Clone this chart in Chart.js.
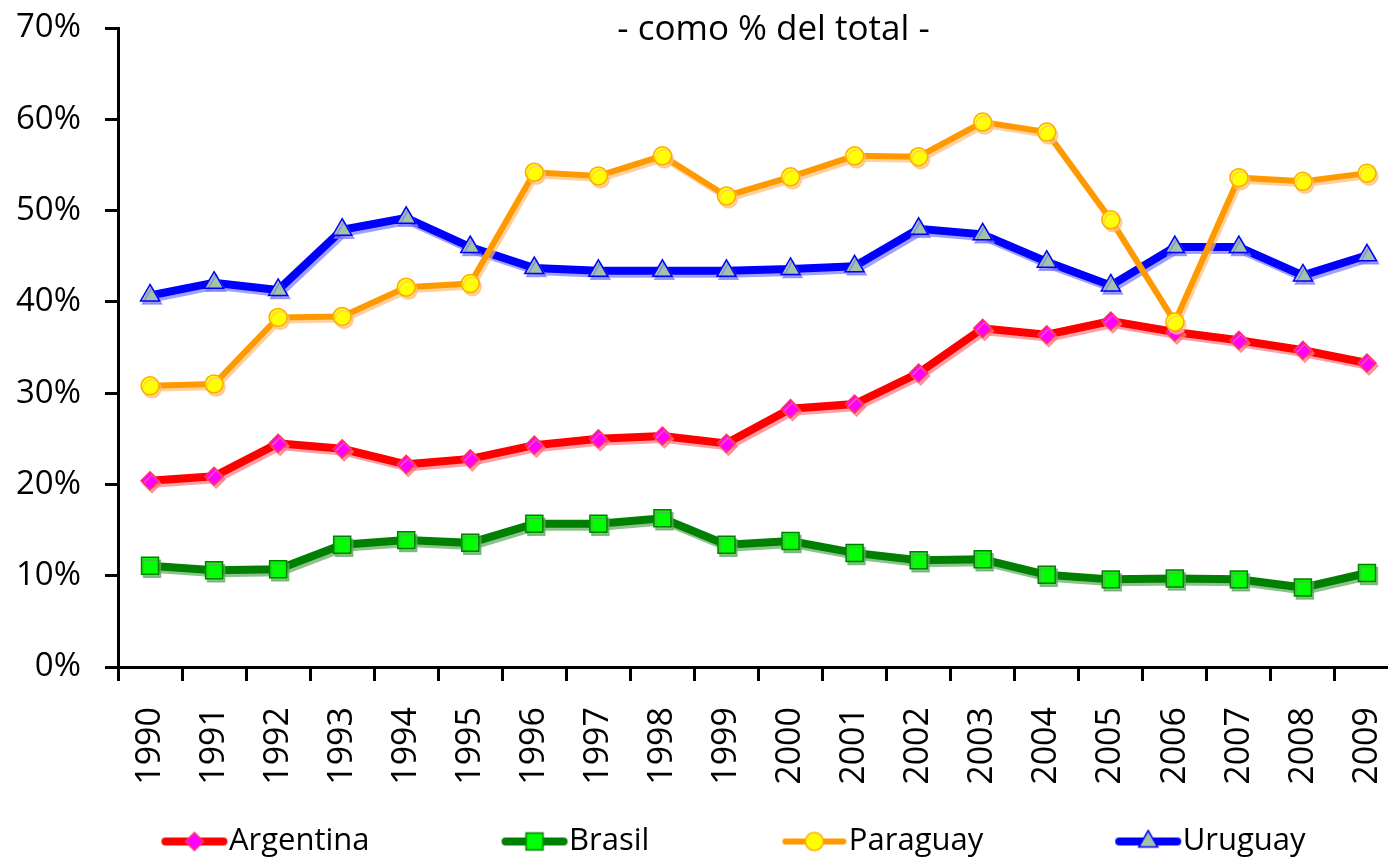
<!DOCTYPE html>
<html>
<head>
<meta charset="utf-8">
<script src="https://cdn.jsdelivr.net/npm/chart.js@4.4.0/dist/chart.umd.min.js"></script>
<style>
  html, body { margin: 0; padding: 0; background: #fff; overflow: hidden; }
  #grafico { position: absolute; left: 0; top: 0; }
</style>
</head>
<body>
<canvas id="grafico" width="1400" height="867"></canvas>
<script>
// ------------------------------------------------------- //
// Datos
// ------------------------------------------------------ //
var years = ['1990', '1991', '1992', '1993', '1994', '1995', '1996', '1997', '1998', '1999',
             '2000', '2001', '2002', '2003', '2004', '2005', '2006', '2007', '2008', '2009'];

var argentina = [20.4, 20.9, 24.5, 23.9, 22.2, 22.8, 24.3, 25.0, 25.3, 24.5,
                 28.3, 28.8, 32.2, 37.1, 36.4, 37.9, 36.7, 35.8, 34.7, 33.3];
var brasil    = [11.1, 10.6, 10.7, 13.4, 13.9, 13.6, 15.7, 15.7, 16.3, 13.4,
                 13.8, 12.5, 11.7, 11.8, 10.1,  9.6,  9.7,  9.6,  8.7, 10.3];
var paraguay  = [30.8, 31.0, 38.3, 38.4, 41.6, 42.0, 54.2, 53.8, 56.0, 51.6,
                 53.7, 56.0, 55.9, 59.7, 58.6, 49.0, 37.8, 53.6, 53.2, 54.1];
var uruguay   = [40.7, 42.1, 41.3, 47.9, 49.2, 46.0, 43.7, 43.4, 43.4, 43.4,
                 43.6, 43.9, 48.0, 47.4, 44.4, 41.8, 46.0, 46.0, 42.9, 45.1];

var yTicks = [0, 10, 20, 30, 40, 50, 60, 70];
var titleText = '- como % del total -';

var FONT = "'Open Sans', sans-serif";
var PW = 120;   // ancho del simbolo en la leyenda
var LPAD = 64;  // separacion entre items de la leyenda

// ------------------------------------------------------- //
// Simbolo de leyenda: linea + marcador
// ------------------------------------------------------ //
function makeIcon(ds) {
    var c = document.createElement('canvas');
    c.width = PW * 2;
    c.height = 26;
    var g = c.getContext('2d');
    var x0 = 1.5 * PW - 48, x1 = 1.5 * PW + 10;
    g.strokeStyle = ds.borderColor;
    g.lineWidth = ds.borderWidth;
    g.lineCap = 'round';
    g.beginPath();
    g.moveTo(x0, 13);
    g.lineTo(x1, 13);
    g.stroke();
    g.fillStyle = ds.pointBackgroundColor;
    g.strokeStyle = ds.pointBorderColor;
    g.lineWidth = ds.pointBorderWidth;
    Chart.helpers.drawPoint(g, {
        pointStyle: ds.pointStyle, radius: ds.pointRadius, rotation: 0, borderWidth: ds.pointBorderWidth
    }, (x0 + x1) / 2, 13);
    return c;
}

// ------------------------------------------------------- //
// Plugins
// ------------------------------------------------------ //
var sombra = {
    id: 'sombra',
    beforeDatasetDraw: function (chart, args) {
        var ds = chart.data.datasets[args.index];
        var ctx = chart.ctx;
        ctx.save();
        ctx.shadowColor = ds.shadowColor;
        ctx.shadowOffsetX = 2;
        ctx.shadowOffsetY = 3;
        ctx.shadowBlur = 0;
    },
    afterDatasetDraw: function (chart) {
        chart.ctx.restore();
    }
};

var titulo = {
    id: 'titulo',
    afterDraw: function (chart) {
        var a = chart.chartArea, ctx = chart.ctx;
        ctx.save();
        ctx.font = '35px ' + FONT;
        ctx.fillStyle = '#000';
        ctx.textAlign = 'center';
        ctx.textBaseline = 'middle';
        ctx.fillText(titleText, (a.left + a.right) / 2 + 15, a.top + 2);
        ctx.restore();
    }
};

// las etiquetas de los años se recortan a la caja del eje: se amplia hacia abajo
var sinRecorte = {
    id: 'sinRecorte',
    afterLayout: function (chart) {
        chart.scales.x.bottom = chart.height;
    }
};

// ------------------------------------------------------- //
// Grafico
// ------------------------------------------------------ //
var ctx = document.getElementById('grafico');
var chart = new Chart(ctx, {
    type: 'line',
    data: {
        labels: years,
        datasets: [
            {
                label: 'Argentina', data: argentina, order: 1,
                borderColor: '#ff0000', borderWidth: 8, shadowColor: 'rgba(255,120,130,0.7)',
                pointStyle: 'rectRot', pointRadius: 9, pointBackgroundColor: '#ff00ff',
                pointBorderColor: '#ff3366', pointBorderWidth: 1.5
            },
            {
                label: 'Brasil', data: brasil, order: 2,
                borderColor: '#008000', borderWidth: 8, shadowColor: 'rgba(90,170,90,0.7)',
                pointStyle: 'rect', pointRadius: 12, pointBackgroundColor: '#00ff00',
                pointBorderColor: '#008000', pointBorderWidth: 1.5
            },
            {
                label: 'Paraguay', data: paraguay, order: 0,
                borderColor: '#ff9900', borderWidth: 6, shadowColor: 'rgba(255,190,120,0.7)',
                pointStyle: 'circle', pointRadius: 9, pointBackgroundColor: '#ffff00',
                pointBorderColor: '#ffaa00', pointBorderWidth: 1.5
            },
            {
                label: 'Uruguay', data: uruguay, order: 3,
                borderColor: '#0000ff', borderWidth: 8, shadowColor: 'rgba(120,120,255,0.7)',
                pointStyle: 'triangle', pointRadius: 11, pointBackgroundColor: '#a3c2a8',
                pointBorderColor: '#0000ff', pointBorderWidth: 1.5
            }
        ]
    },
    options: {
        responsive: false,
        animation: false,
        devicePixelRatio: 1,
        layout: { autoPadding: false, padding: { top: 28, right: 1, left: 0, bottom: 0 } },
        elements: { line: { tension: 0 } },
        plugins: {
            title: { display: false },
            tooltip: { enabled: false },
            legend: {
                position: 'bottom',
                labels: {
                    usePointStyle: true,
                    pointStyleWidth: PW,
                    padding: LPAD,
                    color: '#000',
                    font: { family: FONT, size: 31 },
                    generateLabels: function (chart) {
                        return chart.data.datasets.map(function (ds, i) {
                            return {
                                text: ds.label, datasetIndex: i, hidden: false,
                                pointStyle: makeIcon(ds), rotation: 0, lineWidth: 0,
                                fontColor: '#000'
                            };
                        });
                    }
                }
            }
        },
        scales: {
            x: {
                type: 'category',
                offset: true,
                grid: { offset: true, drawOnChartArea: false, color: '#000', lineWidth: 3, tickLength: 14 },
                border: { color: '#000', width: 3 },
                ticks: {
                    autoSkip: false, minRotation: 90, maxRotation: 90,
                    padding: 26, color: '#000', font: { family: FONT, size: 34 }
                },
                afterFit: function (s) {
                    s.height = 95;
                    s.paddingLeft = 0;
                    s.paddingRight = 0;
                }
            },
            y: {
                min: 0, max: 70,
                afterBuildTicks: function (s) {
                    s.ticks = yTicks.map(function (v) { return { value: v }; });
                },
                grid: { drawOnChartArea: false, color: '#000', lineWidth: 3, tickLength: 13 },
                border: { color: '#000', width: 3 },
                ticks: {
                    padding: 24, color: '#000', font: { family: FONT, size: 33 },
                    callback: function (v) { return v + '%'; }
                },
                afterFit: function (s) {
                    s.width = 118;
                    s.paddingTop = 0;
                    s.paddingBottom = 0;
                }
            }
        }
    },
    plugins: [sombra, titulo, sinRecorte]
});
</script>
</body>
</html>
